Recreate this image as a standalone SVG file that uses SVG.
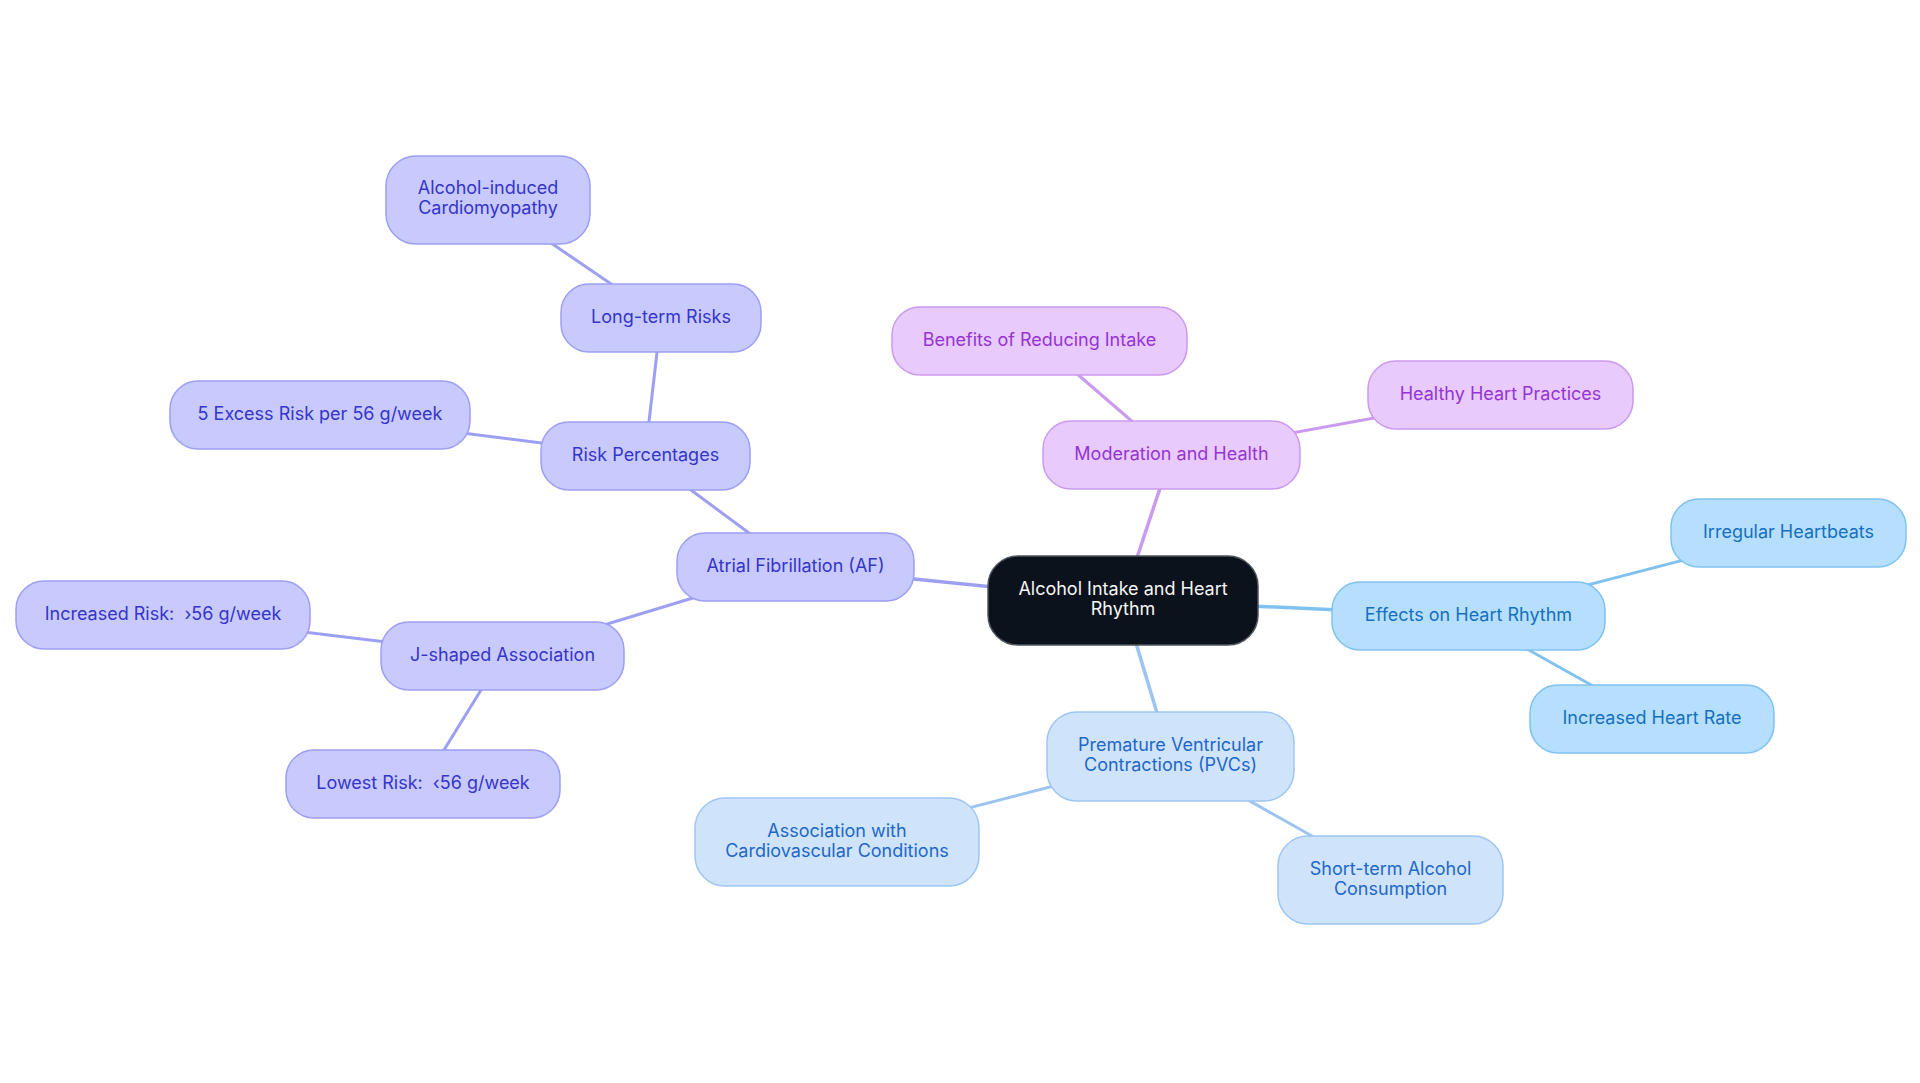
<svg xmlns="http://www.w3.org/2000/svg" width="1920" height="1083" viewBox="0 0 1920 1083">
<style>
text{font-family:Inter,"Noto Sans","Liberation Sans",sans-serif;font-size:18px;text-anchor:middle}
.e{fill:none;stroke-linecap:round}
.eA{stroke:#9d9ff3;stroke-width:3}
.eB{stroke:#c99af0;stroke-width:3}
.eC{stroke:#7fc2f0;stroke-width:3}
.eD{stroke:#9cc4f0;stroke-width:3}
.r0{stroke-width:3.5}
.nA rect{fill:#c8c9fc;stroke:#9d9ff3;stroke-width:1.5}
.nA text{fill:#3535c9}
.nB rect{fill:#e8cafc;stroke:#cc99f0;stroke-width:1.5}
.nB text{fill:#9534d4}
.nC rect{fill:#b6dffd;stroke:#7fc2f0;stroke-width:1.5}
.nC text{fill:#1570c0}
.nD rect{fill:#cfe3fa;stroke:#9ec6f2;stroke-width:1.5}
.nD text{fill:#1e68c8}
.root rect{fill:#0c121b;stroke:#4f555d;stroke-width:1.5}
.root text{fill:#f5f5f5}
</style>
<rect width="1920" height="1083" fill="#ffffff"/>
<g id="connectors">
<line class="e eA r0" x1="1123" y1="600" x2="795" y2="567"/>
<line class="e eA" x1="795" y1="567" x2="645" y2="456"/>
<line class="e eA" x1="645" y1="456" x2="661" y2="318"/>
<line class="e eA" x1="661" y1="318" x2="488" y2="200"/>
<line class="e eA" x1="645" y1="456" x2="320" y2="415"/>
<line class="e eA" x1="795" y1="567" x2="502" y2="656"/>
<line class="e eA" x1="502" y1="656" x2="163" y2="615"/>
<line class="e eA" x1="502" y1="656" x2="423" y2="784"/>
<line class="e eB r0" x1="1123" y1="600" x2="1171" y2="455"/>
<line class="e eB" x1="1171" y1="455" x2="1039" y2="341"/>
<line class="e eB" x1="1171" y1="455" x2="1500" y2="395"/>
<line class="e eC r0" x1="1123" y1="600" x2="1468" y2="616"/>
<line class="e eC" x1="1468" y1="616" x2="1788" y2="533"/>
<line class="e eC" x1="1468" y1="616" x2="1652" y2="719"/>
<line class="e eD r0" x1="1123" y1="600" x2="1170" y2="756"/>
<line class="e eD" x1="1170" y1="756" x2="837" y2="842"/>
<line class="e eD" x1="1170" y1="756" x2="1390" y2="880"/>
</g>
<g id="root" class="root">
<rect x="988" y="556" width="270" height="89" rx="30"/>
<text x="1123" y="595">Alcohol Intake and Heart</text>
<text x="1123" y="615">Rhythm</text>
</g>
<g id="af" class="nA">
<rect x="677" y="533" width="237" height="68" rx="28"/>
<text x="795.5" y="572">Atrial Fibrillation (AF)</text>
</g>
<g id="risk-percentages" class="nA">
<rect x="541" y="422" width="209" height="68" rx="28"/>
<text x="645.5" y="461">Risk Percentages</text>
</g>
<g id="long-term" class="nA">
<rect x="561" y="284" width="200" height="68" rx="28"/>
<text x="661" y="323">Long-term Risks</text>
</g>
<g id="cardiomyopathy" class="nA">
<rect x="386" y="156" width="204" height="88" rx="30"/>
<text x="488" y="194">Alcohol-induced</text>
<text x="488" y="214">Cardiomyopathy</text>
</g>
<g id="excess-risk" class="nA">
<rect x="170" y="381" width="300" height="68" rx="28"/>
<text x="320" y="420">5 Excess Risk per 56 g/week</text>
</g>
<g id="j-shaped" class="nA">
<rect x="381" y="622" width="243" height="68" rx="28"/>
<text x="502.5" y="661">J-shaped Association</text>
</g>
<g id="increased-risk" class="nA">
<rect x="16" y="581" width="294" height="68" rx="28"/>
<text x="163" y="620">Increased Risk:&#160; ›56 g/week</text>
</g>
<g id="lowest-risk" class="nA">
<rect x="286" y="750" width="274" height="68" rx="28"/>
<text x="423" y="789">Lowest Risk:&#160; ‹56 g/week</text>
</g>
<g id="moderation" class="nB">
<rect x="1043" y="421" width="257" height="68" rx="28"/>
<text x="1171.5" y="460">Moderation and Health</text>
</g>
<g id="benefits" class="nB">
<rect x="892" y="307" width="295" height="68" rx="28"/>
<text x="1039.5" y="346">Benefits of Reducing Intake</text>
</g>
<g id="healthy" class="nB">
<rect x="1368" y="361" width="265" height="68" rx="28"/>
<text x="1500.5" y="400">Healthy Heart Practices</text>
</g>
<g id="effects" class="nC">
<rect x="1332" y="582" width="273" height="68" rx="28"/>
<text x="1468.5" y="621">Effects on Heart Rhythm</text>
</g>
<g id="irregular" class="nC">
<rect x="1671" y="499" width="235" height="68" rx="28"/>
<text x="1788.5" y="538">Irregular Heartbeats</text>
</g>
<g id="heart-rate" class="nC">
<rect x="1530" y="685" width="244" height="68" rx="28"/>
<text x="1652" y="724">Increased Heart Rate</text>
</g>
<g id="pvcs" class="nD">
<rect x="1047" y="712" width="247" height="89" rx="30"/>
<text x="1170.5" y="751">Premature Ventricular</text>
<text x="1170.5" y="771">Contractions (PVCs)</text>
</g>
<g id="association" class="nD">
<rect x="695" y="798" width="284" height="88" rx="30"/>
<text x="837" y="837">Association with</text>
<text x="837" y="857">Cardiovascular Conditions</text>
</g>
<g id="short-term" class="nD">
<rect x="1278" y="836" width="225" height="88" rx="30"/>
<text x="1390.5" y="875">Short-term Alcohol</text>
<text x="1390.5" y="895">Consumption</text>
</g>
</svg>
